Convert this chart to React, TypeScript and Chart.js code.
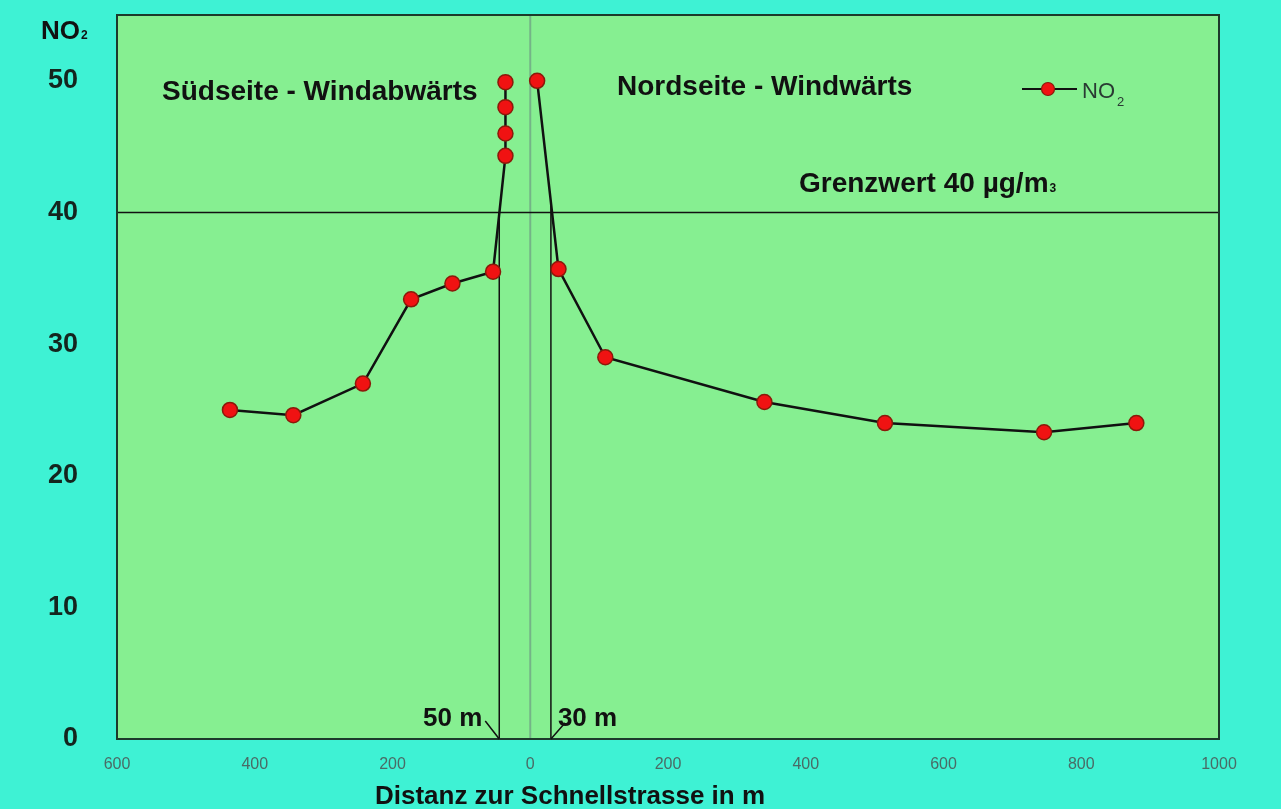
import React, { useEffect, useRef } from 'react';
import { Chart, registerables } from 'chart.js';

Chart.register(...registerables);

// ---------- data ----------
const southDistance = [-436, -344, -243, -173, -113, -54, -36, -36, -36, -36];
const southNO2 = [25.0, 24.6, 27.0, 33.4, 34.6, 35.5, 44.3, 46.0, 48.0, 49.9];
const northDistance = [10, 41, 109, 340, 515, 746, 880];
const northNO2 = [50.0, 35.7, 29.0, 25.6, 24.0, 23.3, 24.0];

const limitValue = 40;
const markerDistances = [-45, 30];
const markerTops = [39.5, 40.5];
const markerLabels = ['50 m', '30 m'];
const regionLabels = ['Südseite - Windabwärts', 'Nordseite - Windwärts'];
const limitLabel = 'Grenzwert 40 µg/m';
const limitLabelSub = '3';
const seriesName = 'NO';
const seriesSub = '2';
const xTitle = 'Distanz zur Schnellstrasse in m';

const xRange = [-600, 1000];
const yRange = [0, 55];
const xTickValues = [-600, -400, -200, 0, 200, 400, 600, 800, 1000];
const xTickLabels = ['600', '400', '200', '0', '200', '400', '600', '800', '1000'];
const yTickValues = [0, 10, 20, 30, 40, 50];
const yTickLabels = ['0', '10', '20', '30', '40', '50'];

const FONT = "'Liberation Sans', Arial, Helvetica, sans-serif";
const OUTER_BG = '#3ef2d4';
const PLOT_BG = '#86ef91';
const POINT_FILL = '#f01212';
const POINT_BORDER = '#8a1a0a';

const toXY = (xs: number[], ys: number[]) => xs.map((x, i) => ({ x, y: ys[i] }));

const decorPlugin = {
  id: 'decor',
  beforeDraw(chart: any) {
    const { ctx, chartArea: a, width, height } = chart;
    ctx.save();
    ctx.fillStyle = OUTER_BG;
    ctx.fillRect(0, 0, width, height);
    ctx.fillStyle = PLOT_BG;
    ctx.fillRect(a.left, a.top, a.right - a.left, a.bottom - a.top);
    ctx.restore();
  },
  afterDraw(chart: any) {
    const { ctx, chartArea: a, scales } = chart;
    const xs = scales.x;
    const ys = scales.y;
    ctx.save();
    // plot border
    ctx.strokeStyle = '#1c3a2b';
    ctx.lineWidth = 2;
    ctx.strokeRect(a.left, a.top, a.right - a.left, a.bottom - a.top);

    ctx.fillStyle = '#111';
    ctx.textAlign = 'left';
    ctx.textBaseline = 'alphabetic';

    // y axis title NO2
    ctx.font = `bold 26px ${FONT}`;
    ctx.fillText(seriesName, 41, 39);
    let w = ctx.measureText(seriesName).width;
    ctx.font = `bold 12px ${FONT}`;
    ctx.fillText(seriesSub, 41 + w + 1, 39);

    // region labels
    ctx.font = `bold 28px ${FONT}`;
    ctx.fillText(regionLabels[0], 162, 100);
    ctx.fillText(regionLabels[1], 617, 95);

    // limit label
    const ly = ys.getPixelForValue(limitValue) - 20;
    ctx.fillText(limitLabel, 799, ly);
    w = ctx.measureText(limitLabel).width;
    ctx.font = `bold 12px ${FONT}`;
    ctx.fillText(limitLabelSub, 799 + w + 1, ly);

    // marker labels + small diagonal ticks
    ctx.font = `bold 26px ${FONT}`;
    const b = a.bottom;
    const p0 = xs.getPixelForValue(markerDistances[0]);
    const p1 = xs.getPixelForValue(markerDistances[1]);
    ctx.textAlign = 'right';
    ctx.fillText(markerLabels[0], p0 - 17, b - 13);
    ctx.textAlign = 'left';
    ctx.fillText(markerLabels[1], p1 + 7, b - 13);
    ctx.strokeStyle = '#111';
    ctx.lineWidth = 1.5;
    ctx.beginPath();
    ctx.moveTo(p0, b);
    ctx.lineTo(p0 - 14, b - 18);
    ctx.moveTo(p1, b);
    ctx.lineTo(p1 + 14, b - 16);
    ctx.stroke();

    // legend
    const legY = 89;
    ctx.strokeStyle = '#111';
    ctx.lineWidth = 2;
    ctx.beginPath();
    ctx.moveTo(1022, legY);
    ctx.lineTo(1077, legY);
    ctx.stroke();
    ctx.beginPath();
    ctx.arc(1048, legY, 6.5, 0, Math.PI * 2);
    ctx.fillStyle = POINT_FILL;
    ctx.fill();
    ctx.strokeStyle = POINT_BORDER;
    ctx.lineWidth = 1.2;
    ctx.stroke();
    ctx.fillStyle = '#2a3a33';
    ctx.font = `22px ${FONT}`;
    ctx.fillText(seriesName, 1082, 98);
    w = ctx.measureText(seriesName).width;
    ctx.font = `13px ${FONT}`;
    ctx.fillText(seriesSub, 1082 + w + 2, 106);

    // x axis title
    ctx.fillStyle = '#111';
    ctx.font = `bold 26px ${FONT}`;
    ctx.textAlign = 'center';
    ctx.textBaseline = 'middle';
    ctx.fillText(xTitle, 570, 797);
    ctx.restore();
  },
};

export default function App() {
  const ref = useRef<HTMLCanvasElement>(null);

  useEffect(() => {
    const canvas = ref.current;
    if (!canvas) return;
    const lineStyle = (color: string, width: number, order: number) => ({
      showLine: true,
      borderColor: color,
      borderWidth: width,
      pointRadius: 0,
      pointHoverRadius: 0,
      order,
    });
    const pointStyle = {
      showLine: true,
      borderColor: '#111',
      borderWidth: 2.5,
      pointRadius: 7.5,
      pointHoverRadius: 7.5,
      pointBackgroundColor: POINT_FILL,
      pointBorderColor: POINT_BORDER,
      pointBorderWidth: 1.5,
      order: 0,
    };
    const chart = new Chart(canvas, {
      type: 'scatter',
      data: {
        datasets: [
          { label: 'NO2 Südseite', data: toXY(southDistance, southNO2), ...pointStyle },
          { label: 'NO2 Nordseite', data: toXY(northDistance, northNO2), ...pointStyle },
          {
            label: 'Grenzwert',
            data: [
              { x: xRange[0], y: limitValue },
              { x: xRange[1], y: limitValue },
            ],
            ...lineStyle('#111', 1.5, 2),
          },
          {
            label: 'Schnellstrasse',
            data: [
              { x: 0, y: yRange[0] },
              { x: 0, y: yRange[1] },
            ],
            ...lineStyle('#74b487', 2, 3),
          },
          ...markerDistances.map((d, i) => ({
            label: markerLabels[i],
            data: [
              { x: d, y: 0 },
              { x: d, y: markerTops[i] },
            ],
            ...lineStyle('#111', 1.5, 2),
          })),
        ],
      },
      options: {
        responsive: false,
        animation: false,
        layout: { padding: { top: 15, right: 62, left: 0, bottom: 0 } },
        plugins: {
          legend: { display: false },
          tooltip: { enabled: false },
        },
        events: [],
        scales: {
          x: {
            type: 'linear',
            min: xRange[0],
            max: xRange[1],
            afterBuildTicks: (s: any) => {
              s.ticks = xTickValues.map((v) => ({ value: v }));
            },
            afterFit: (s: any) => {
              s.height = 70;
            },
            ticks: {
              autoSkip: false,
              maxRotation: 0,
              padding: 0,
              color: '#4a6b66',
              font: { family: FONT, size: 16 },
              callback: (v: any) => xTickLabels[xTickValues.indexOf(Number(v))],
            },
            grid: { display: false, drawTicks: true, tickLength: 16 },
            border: { display: false },
          },
          y: {
            type: 'linear',
            min: yRange[0],
            max: yRange[1],
            afterBuildTicks: (s: any) => {
              s.ticks = yTickValues.map((v) => ({ value: v }));
            },
            afterFit: (s: any) => {
              s.width = 117;
            },
            ticks: {
              autoSkip: false,
              padding: 0,
              color: '#14251e',
              font: { family: FONT, size: 27, weight: 'bold', lineHeight: 1 },
              callback: (v: any) => yTickLabels[yTickValues.indexOf(Number(v))],
            },
            grid: { display: false, drawTicks: true, tickLength: 39 },
            border: { display: false },
          },
        },
      } as any,
      plugins: [decorPlugin],
    });
    return () => chart.destroy();
  }, []);

  return (
    <div
      style={{
        position: 'fixed',
        left: 0,
        top: 0,
        width: 1281,
        height: 809,
        background: OUTER_BG,
      }}
    >
      <canvas ref={ref} width={1281} height={809} style={{ display: 'block' }} />
    </div>
  );
}
